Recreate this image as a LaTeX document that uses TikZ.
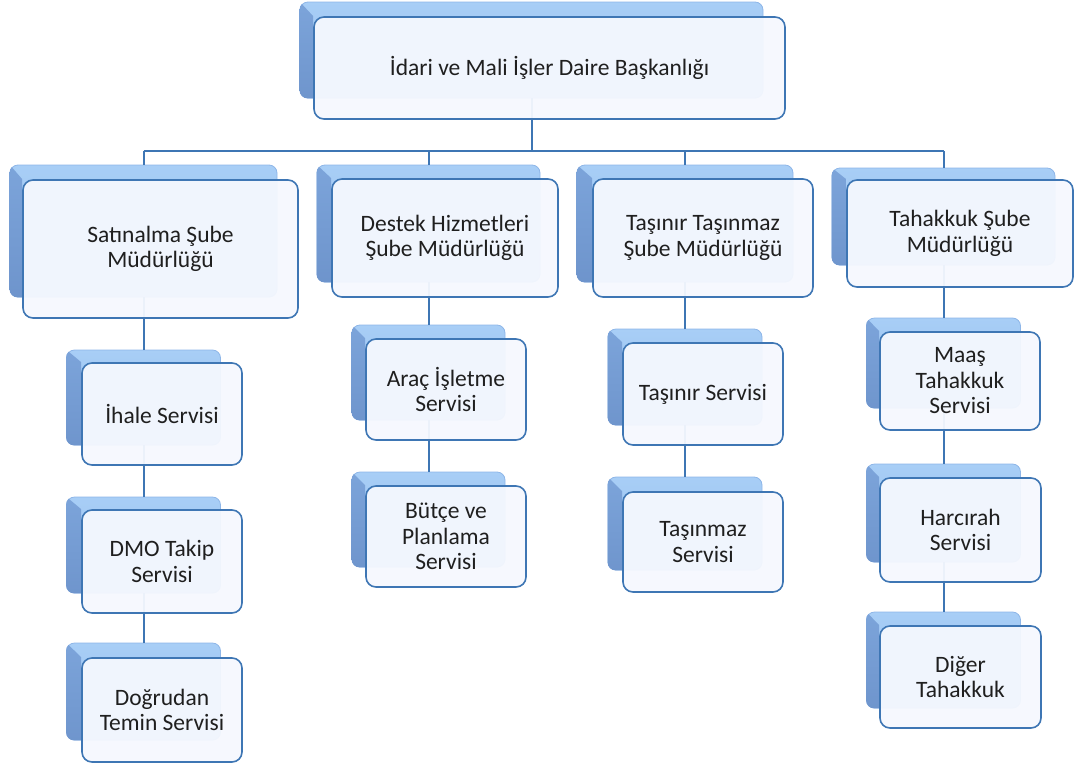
\documentclass[tikz,border=0pt]{standalone}
\usepackage{fontspec}
\setmainfont{Carlito}
\definecolor{lnc}{RGB}{62,118,180}
\definecolor{shl}{RGB}{168,206,246}
\definecolor{shm}{RGB}{150,190,238}
\definecolor{lfl}{RGB}{124,164,218}
\definecolor{lfd}{RGB}{108,146,202}
\definecolor{frf}{RGB}{245,248,254}
\pgfdeclarelayer{bg}
\pgfsetlayers{bg,main}
\tikzset{
  shbox/.style={rectangle, rounded corners=8pt, inner sep=0pt, top color=shl, bottom color=shm, draw=shm!70!lfl, line width=0.8pt},
  leftface/.style={top color=lfl, bottom color=lfd},
  frbox/.style={rectangle, rounded corners=10pt, inner sep=2pt, draw=lnc, line width=1.6pt, fill=frf, fill opacity=0.95, text opacity=1, align=center, font=\fontsize{23.5}{25.5}\selectfont, text=black!88},
  conn/.style={draw=lnc, line width=2pt}
}
% #1 shadow name, #2 front name, #3 center, #4 width, #5 height
\newcommand\shadowbox[5]{%
  \node[shbox, minimum width=#4, minimum height=#5] (#1) at #3 {};
  \begin{scope}
    \clip[rounded corners=8pt] (#1.north west) rectangle (#1.south east);
    \shade[leftface] (#1.north west) -- (#2.north west) -- (#2.south west) -- (#1.south west |- #2.south west) -- cycle;
  \end{scope}%
}
\begin{document}
\begin{tikzpicture}[x=1pt,y=-1pt]
\useasboundingbox (0,0) rectangle (1074,766);
% front layer
\node[frbox, minimum width=471pt, minimum height=102pt] (top) at (549.5,68) {İdari ve Mali İşler Daire Başkanlığı};
\node[frbox, minimum width=275pt, minimum height=138pt] (sat) at (160.5,249) {Satınalma Şube\\Müdürlüğü};
\node[frbox, minimum width=226pt, minimum height=118pt] (des) at (445,238) {Destek Hizmetleri\\Şube Müdürlüğü};
\node[frbox, minimum width=220pt, minimum height=118pt] (tas) at (703,238) {Taşınır Taşınmaz\\Şube Müdürlüğü};
\node[frbox, minimum width=226pt, minimum height=107pt] (tah) at (960,233.5) {Tahakkuk Şube\\Müdürlüğü};
\node[frbox, minimum width=160pt, minimum height=102pt] (ihl) at (162,414) {İhale Servisi};
\node[frbox, minimum width=160pt, minimum height=103pt] (dmo) at (162,561.5) {DMO Takip\\Servisi};
\node[frbox, minimum width=160pt, minimum height=104pt] (dog) at (162,710) {Doğrudan\\Temin Servisi};
\node[frbox, minimum width=160pt, minimum height=101pt] (arc) at (446,389.5) {Araç İşletme\\Servisi};
\node[frbox, minimum width=160pt, minimum height=101pt] (but) at (446,536.5) {Bütçe ve\\Planlama\\Servisi};
\node[frbox, minimum width=160pt, minimum height=102pt] (tsr) at (703,394) {Taşınır Servisi};
\node[frbox, minimum width=160pt, minimum height=100pt] (tsz) at (703,542) {Taşınmaz\\Servisi};
\node[frbox, minimum width=160pt, minimum height=98pt] (maa) at (960,381) {Maaş\\Tahakkuk\\Servisi};
\node[frbox, minimum width=161pt, minimum height=104pt] (har) at (960.5,530) {Harcırah\\Servisi};
\node[frbox, minimum width=161pt, minimum height=102pt] (dig) at (960.5,677) {Diğer\\Tahakkuk};
\begin{pgfonlayer}{bg}
% shadow layer
\shadowbox{s-top}{top}{(531.5,50)}{463pt}{96pt}
\shadowbox{s-sat}{sat}{(143.5,231)}{267pt}{132pt}
\shadowbox{s-des}{des}{(428.5,223.5)}{223pt}{117pt}
\shadowbox{s-tas}{tas}{(685,223.5)}{216pt}{117pt}
\shadowbox{s-tah}{tah}{(943.5,216.5)}{223pt}{97pt}
\shadowbox{s-ihl}{ihl}{(143.5,397.5)}{154pt}{95pt}
\shadowbox{s-dmo}{dmo}{(143.5,545)}{154pt}{96pt}
\shadowbox{s-dog}{dog}{(143.5,691.5)}{154pt}{97pt}
\shadowbox{s-arc}{arc}{(428.5,372.5)}{153pt}{95pt}
\shadowbox{s-but}{but}{(428.5,519.5)}{153pt}{95pt}
\shadowbox{s-tsr}{tsr}{(685,377)}{154pt}{96pt}
\shadowbox{s-tsz}{tsz}{(685,523.5)}{154pt}{93pt}
\shadowbox{s-maa}{maa}{(943.5,363)}{154pt}{90pt}
\shadowbox{s-har}{har}{(943.5,513)}{154pt}{98pt}
\shadowbox{s-dig}{dig}{(943.5,660)}{154pt}{96pt}
% connectors
\coordinate (bus) at (0,151);
\draw[conn] (s-top.south) -- (s-top.south |- bus);
\draw[conn] (s-sat.north |- bus) -- (s-tah.north |- bus);
\draw[conn] (s-sat.north |- bus) -- (s-sat.north);
\draw[conn] (s-des.north |- bus) -- (s-des.north);
\draw[conn] (s-tas.north |- bus) -- (s-tas.north);
\draw[conn] (s-tah.north |- bus) -- (s-tah.north);
\draw[conn] (s-sat.south) -- (s-ihl.north);
\draw[conn] (s-ihl.south) -- (s-dmo.north);
\draw[conn] (s-dmo.south) -- (s-dog.north);
\draw[conn] (s-des.south) -- (s-arc.north);
\draw[conn] (s-arc.south) -- (s-but.north);
\draw[conn] (s-tas.south) -- (s-tsr.north);
\draw[conn] (s-tsr.south) -- (s-tsz.north);
\draw[conn] (s-tah.south) -- (s-maa.north);
\draw[conn] (s-maa.south) -- (s-har.north);
\draw[conn] (s-har.south) -- (s-dig.north);
\end{pgfonlayer}
\end{tikzpicture}
\end{document}
